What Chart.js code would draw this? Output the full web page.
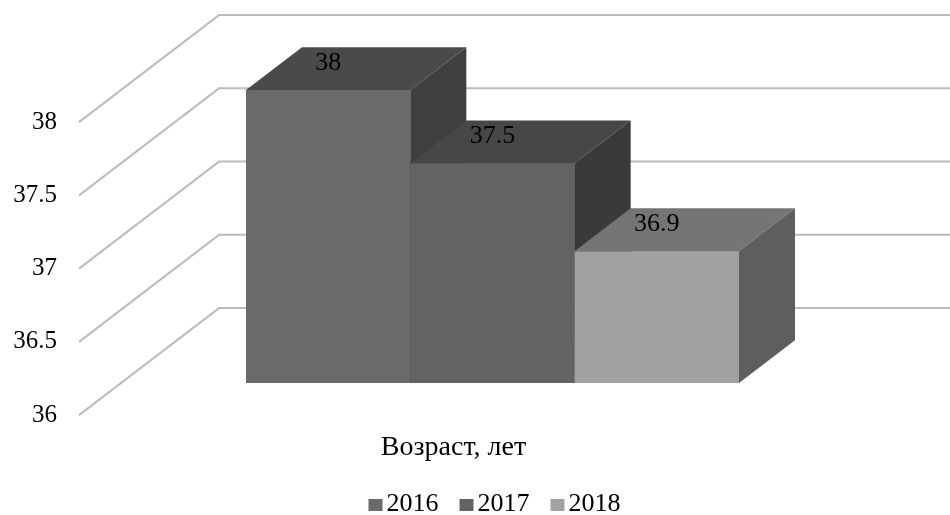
<!DOCTYPE html>
<html>
<head>
<meta charset="utf-8">
<script src="https://cdn.jsdelivr.net/npm/chart.js@4/dist/chart.umd.min.js"></script>
<style>
  html, body { margin: 0; padding: 0; background: #ffffff; }
  #wrap { width: 950px; height: 515px; }
</style>
</head>
<body>
<div id="wrap"><canvas id="c" width="950" height="515"></canvas></div>
<script>
// ---- data ----
const categories = ['Возраст, лет'];
const years = ['2016', '2017', '2018'];
const values2016 = [38];
const values2017 = [37.5];
const values2018 = [36.9];
const yTicks = [36, 36.5, 37, 37.5, 38];

// ---- look ----
const FONT = '"Liberation Serif", "Times New Roman", serif';
const shades = [
  { front: '#6a6a6a', top: '#4a4a4a', side: '#3f3f3f' },
  { front: '#636363', top: '#474747', side: '#3a3a3a' },
  { front: '#a1a1a1', top: '#757575', side: '#5e5e5e' }
];
const DEPTH = { x: 140, y: -107 };   // full depth of the floor, in px
const BAR_NEAR = 0.3, BAR_FAR = 0.7;  // bars sit between these fractions of the depth

// 3D walls, box faces, value labels and the legend
const box3d = {
  id: 'box3d',
  beforeDatasetsDraw(chart) {
    const ctx = chart.ctx, ys = chart.scales.y, area = chart.chartArea;
    const sx = -DEPTH.x * BAR_NEAR, sy = -DEPTH.y * BAR_NEAR;
    ctx.save();
    ctx.strokeStyle = '#bdbdbd';
    ctx.lineWidth = 2;
    ys.ticks.forEach(t => {
      const px = area.left + sx;
      const py = ys.getPixelForValue(t.value) + sy;
      ctx.beginPath();
      ctx.moveTo(px, py);
      ctx.lineTo(px + DEPTH.x, py + DEPTH.y);
      ctx.lineTo(chart.width, py + DEPTH.y);
      ctx.stroke();
    });
    ctx.restore();
  },
  afterDatasetsDraw(chart) {
    const ctx = chart.ctx;
    const dx = DEPTH.x * (BAR_FAR - BAR_NEAR), dy = DEPTH.y * (BAR_FAR - BAR_NEAR);
    ctx.save();
    chart.data.datasets.forEach((ds, i) => {
      const meta = chart.getDatasetMeta(i);
      meta.data.forEach(bar => {
        const { x, y, base, width } = bar.getProps(['x', 'y', 'base', 'width'], true);
        const l = x - width / 2, r = x + width / 2;
        bar.draw(ctx);
        ctx.fillStyle = shades[i].top;
        ctx.beginPath();
        ctx.moveTo(l, y); ctx.lineTo(l + dx, y + dy); ctx.lineTo(r + dx, y + dy); ctx.lineTo(r, y);
        ctx.closePath(); ctx.fill();
        ctx.fillStyle = shades[i].side;
        ctx.beginPath();
        ctx.moveTo(r, y); ctx.lineTo(r + dx, y + dy); ctx.lineTo(r + dx, base + dy); ctx.lineTo(r, base);
        ctx.closePath(); ctx.fill();
      });
    });
    ctx.fillStyle = '#000';
    ctx.font = '26px ' + FONT;
    ctx.textAlign = 'center';
    ctx.textBaseline = 'middle';
    chart.data.datasets.forEach((ds, i) => {
      const meta = chart.getDatasetMeta(i);
      meta.data.forEach((bar, j) => {
        ctx.fillText(String(ds.data[j]), bar.x, bar.y - 27);
      });
    });
    ctx.restore();
  },
  afterDraw(chart) {
    const ctx = chart.ctx, area = chart.chartArea;
    ctx.save();
    ctx.font = '26px ' + FONT;
    const SW = 14, SH = 12, GAP = 4, SP = 21;
    const items = chart.data.datasets.map((ds, i) => ({ t: ds.label, w: ctx.measureText(ds.label).width, c: shades[i].front }));
    const total = items.reduce((s, it) => s + SW + GAP + it.w, 0) + SP * (items.length - 1);
    let x = (area.left + area.right) / 2 - total / 2 + 2;
    const cy = 504;
    ctx.textAlign = 'left';
    ctx.textBaseline = 'middle';
    items.forEach(it => {
      ctx.fillStyle = it.c;
      ctx.fillRect(x, cy - SH / 2 + 1, SW, SH);
      ctx.fillStyle = '#000';
      ctx.fillText(it.t, x + SW + GAP, cy);
      x += SW + GAP + it.w + SP;
    });
    ctx.restore();
  }
};

const seriesValues = [values2016, values2017, values2018];

new Chart(document.getElementById('c'), {
  type: 'bar',
  data: {
    labels: categories,
    datasets: years.map((yr, i) => ({
      label: yr,
      data: seriesValues[i],
      base: yTicks[0],
      backgroundColor: shades[i].front,
      borderWidth: 0,
      barPercentage: 1.0,
      categoryPercentage: 0.6635
    }))
  },
  options: {
    responsive: false,
    animation: false,
    layout: { padding: { left: 0, top: 90, right: 86, bottom: 52 } },
    plugins: {
      legend: { display: false },
      tooltip: { enabled: false }
    },
    scales: {
      x: {
        grid: { display: false, drawTicks: false },
        border: { display: false },
        ticks: {
          font: { family: FONT, size: 28 },
          color: '#000',
          padding: 48,
          labelOffset: -39
        },
        afterFit(scale) { scale.height = 80; }
      },
      y: {
        min: 36,
        max: 38,
        afterBuildTicks(scale) { scale.ticks = yTicks.map(v => ({ value: v })); },
        grid: { display: false, drawTicks: false },
        border: { display: false },
        ticks: {
          font: { family: FONT, size: 25 },
          color: '#000',
          padding: 64,
          labelOffset: 32,
          callback: v => String(v)
        },
        afterFit(scale) { scale.width = 121; }
      }
    }
  },
  plugins: [box3d]
});
</script>
</body>
</html>
